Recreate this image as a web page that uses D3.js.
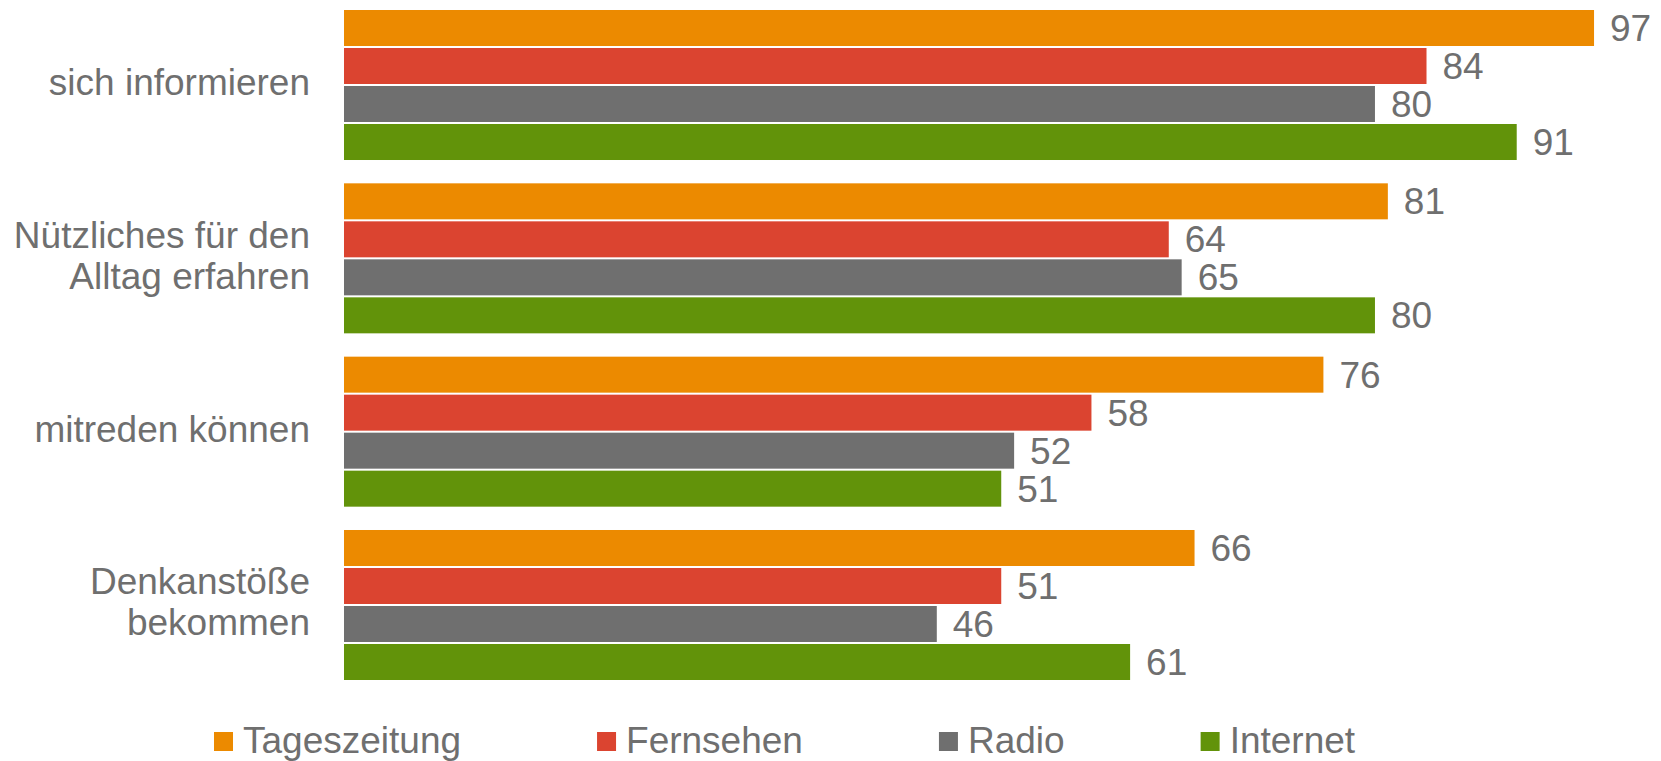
<!DOCTYPE html>
<html>
<head>
<meta charset="utf-8">
<script src="https://cdn.jsdelivr.net/npm/d3@7"></script>
<style>
  html, body { margin: 0; padding: 0; background: #ffffff; }
  svg { display: block; }
  text { font-family: "Liberation Sans", Arial, sans-serif; fill: #6f6f6f; }
</style>
</head>
<body>
<svg id="chart" width="1661" height="761"></svg>
<script>
const categories = [
  ["sich informieren"],
  ["Nützliches für den", "Alltag erfahren"],
  ["mitreden können"],
  ["Denkanstöße", "bekommen"]
];
const seriesNames = ["Tageszeitung", "Fernsehen", "Radio", "Internet"];
const tageszeitung = [97, 81, 76, 66];
const fernsehen    = [84, 64, 58, 51];
const radio        = [80, 65, 52, 46];
const internet     = [91, 80, 51, 61];
const seriesValues = [tageszeitung, fernsehen, radio, internet];
const colors = ["#ec8a00", "#db4430", "#6f6f6f", "#62930a"];

const FS = 37;
const svg = d3.select("#chart");
const catKeys = categories.map(c => c.join(" "));

const x = d3.scaleLinear().domain([0, 100]).range([344, 344 + 1288.7]);
const y0 = d3.scaleBand().domain(catKeys).range([10, 680]).paddingInner(23.33 / 173.33).paddingOuter(0);
const y1 = d3.scaleBand().domain(seriesNames).range([0, y0.bandwidth()]).paddingInner(2 / 38).paddingOuter(0);

const groups = svg.selectAll("g.grp").data(catKeys).join("g")
  .attr("class", "grp")
  .attr("transform", d => `translate(0,${y0(d)})`);

groups.each(function(cat, ci) {
  const g = d3.select(this);
  const rows = seriesNames.map((s, si) => ({ s, si, v: seriesValues[si][ci] }));
  g.selectAll("rect").data(rows).join("rect")
    .attr("x", x(0))
    .attr("y", d => y1(d.s))
    .attr("width", d => x(d.v) - x(0))
    .attr("height", y1.bandwidth())
    .attr("fill", d => colors[d.si]);
  g.selectAll("text.val").data(rows).join("text")
    .attr("class", "val")
    .attr("x", d => x(d.v) + 16)
    .attr("y", d => y1(d.s) + y1.bandwidth() / 2 + 13)
    .attr("font-size", FS)
    .text(d => d.v);
});

// category labels
categories.forEach((lines, ci) => {
  const cy = y0(catKeys[ci]) + y0.bandwidth() / 2;
  const lh = 41;
  const t = svg.append("text")
    .attr("text-anchor", "end")
    .attr("font-size", FS);
  lines.forEach((ln, li) => {
    const base = cy + 10 + (li - (lines.length - 1) / 2) * lh;
    t.append("tspan").attr("x", 310).attr("y", base).text(ln);
  });
});

// legend
const legend = svg.append("g");
let lx = 214;
seriesNames.forEach((s, si) => {
  legend.append("rect")
    .attr("x", lx).attr("y", 732).attr("width", 19).attr("height", 19)
    .attr("fill", colors[si]);
  const t = legend.append("text")
    .attr("x", lx + 29).attr("y", 753)
    .attr("font-size", FS)
    .text(s);
  const w = t.node().getComputedTextLength();
  lx = lx + 29 + w + 136;
});
</script>
</body>
</html>
